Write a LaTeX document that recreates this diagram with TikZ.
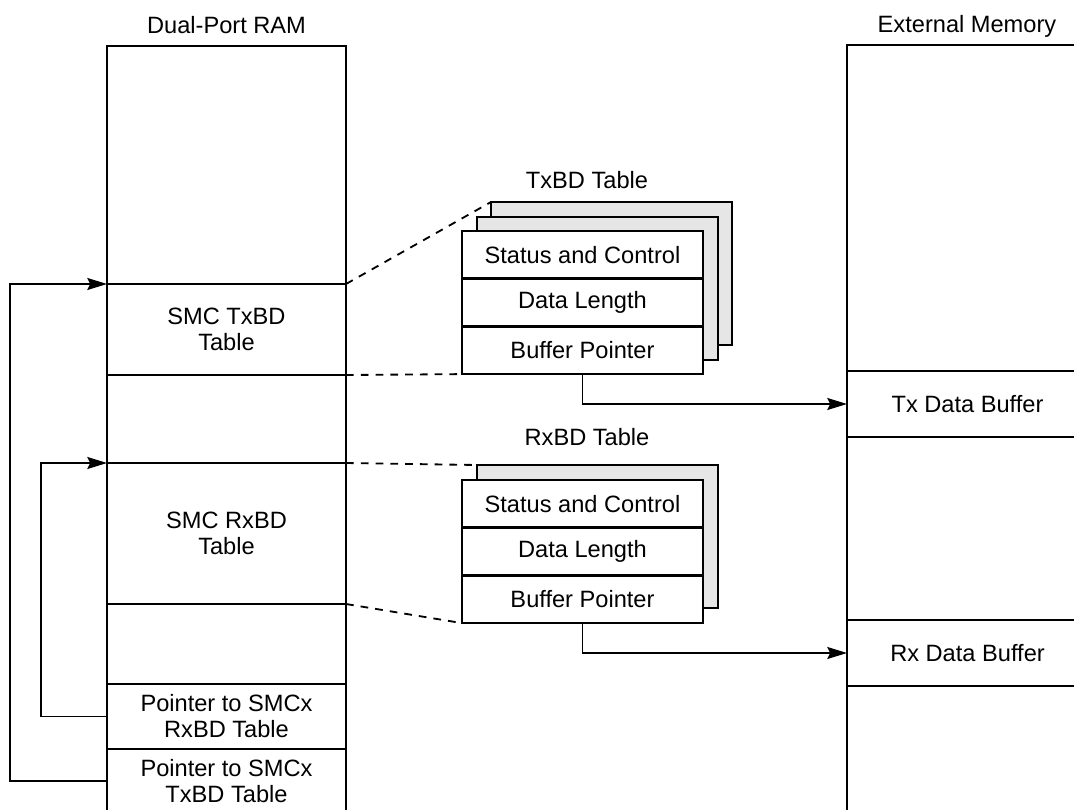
\documentclass[tikz,border=0pt]{standalone}
\usepackage{fontspec}
\setmainfont{Liberation Sans}
\usetikzlibrary{arrows.meta,positioning}
\definecolor{shade}{HTML}{E6E6E6}
\tikzset{
  ram_cell/.style={draw,line width=2pt,outer sep=0pt,inner sep=0pt,
    minimum width=239*0.025cm,align=center},
  ext_cell/.style={ram_cell,minimum width=241*0.025cm},
  bd_row/.style={draw,fill=white,line width=1.8pt,outer sep=0pt,inner sep=0pt,
    minimum width=241*0.025cm,minimum height=47.7*0.025cm},
  bd_shadow/.style={draw,fill=shade,line width=1.8pt,outer sep=0pt,
    minimum width=241*0.025cm,minimum height=143*0.025cm},
  lbl/.style={inner sep=0pt,anchor=base},
  arr/.style={-{Stealth[length=14pt,width=8.5pt,inset=2pt]},line width=1.3pt},
  dash_ln/.style={line width=1.3pt,dash pattern=on 5.5pt off 5pt},
}
\begin{document}
\begin{tikzpicture}[x=0.025cm,y=-0.025cm,font=\fontsize{16.8}{18.5}\selectfont]
  \useasboundingbox (0,0) rectangle (1074,810);
  \clip (0,0) rectangle (1074,810);

  % dual-port RAM
  \node[lbl] (ramlbl) at (226.5,33) {Dual-Port RAM};
  \node[ram_cell,minimum height=238*0.025cm,anchor=north west] (ramtop) at (107,46) {};
  \node[ram_cell,minimum height=91*0.025cm,below=0pt of ramtop] (ramtx) {SMC TxBD\\Table};
  \node[ram_cell,minimum height=88*0.025cm,below=0pt of ramtx] (ramgap1) {};
  \node[ram_cell,minimum height=141*0.025cm,below=0pt of ramgap1] (ramrx) {SMC RxBD\\Table};
  \node[ram_cell,minimum height=80*0.025cm,below=0pt of ramrx] (ramgap2) {};
  \node[ram_cell,minimum height=65*0.025cm,below=0pt of ramgap2] (ptrrx) {Pointer to SMCx\\RxBD Table};
  \node[ram_cell,minimum height=64*0.025cm,below=0pt of ptrrx] (ptrtx) {Pointer to SMCx\\TxBD Table};

  % external memory
  \node[lbl] (extlbl) at (967,32) {External Memory};
  \node[ext_cell,minimum height=326*0.025cm,anchor=north west] (exttop) at (847,45) {};
  \node[ext_cell,minimum height=66*0.025cm,below=0pt of exttop] (txdata) {Tx Data Buffer};
  \node[ext_cell,minimum height=183*0.025cm,below=0pt of txdata] (extmid) {};
  \node[ext_cell,minimum height=66*0.025cm,below=0pt of extmid] (rxdata) {Rx Data Buffer};
  \node[ext_cell,minimum height=140*0.025cm,below=0pt of rxdata] (extbot) {};

  % TxBD table
  \node[lbl] (txlbl) at (587,188) {TxBD Table};
  \node[bd_shadow,anchor=north west] (txsh2) at (491,202) {};
  \node[bd_shadow,anchor=north west] (txsh1) at (477,217) {};
  \node[bd_row,anchor=north west] (txsc) at (462,231) {Status and Control};
  \node[bd_row,below=0pt of txsc] (txdl) {Data Length};
  \node[bd_row,below=0pt of txdl] (txbp) {Buffer Pointer};

  % RxBD table
  \node[lbl] (rxlbl) at (587,445) {RxBD Table};
  \node[bd_shadow,anchor=north west] (rxsh) at (477,465) {};
  \node[bd_row,anchor=north west] (rxsc) at (462,480) {Status and Control};
  \node[bd_row,below=0pt of rxsc] (rxdl) {Data Length};
  \node[bd_row,below=0pt of rxdl] (rxbp) {Buffer Pointer};

  \draw[dash_ln] (ramtx.north east) -- (txsh2.north west);
  \draw[dash_ln] (ramtx.south east) -- (txbp.south west);
  \draw[dash_ln] (ramrx.north east) -- (rxsh.north west);
  \draw[dash_ln] (ramrx.south east) -- (rxbp.south west);

  \draw[arr] (txbp.south) |- (txdata.west);
  \draw[arr] (rxbp.south) |- (rxdata.west);
  \draw[arr] (ptrtx.west) -- ++(-97,0) |- (ramtx.north west);
  \draw[arr] (ptrrx.west) -- ++(-66,0) |- (ramrx.north west);
\end{tikzpicture}
\end{document}
